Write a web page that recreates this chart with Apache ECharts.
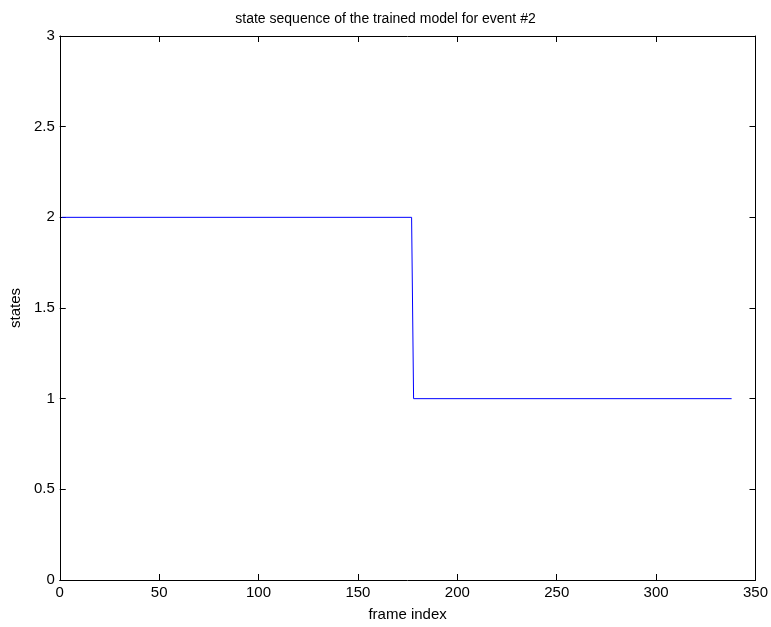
<!DOCTYPE html>
<html>
<head>
<meta charset="utf-8">
<script src="https://cdn.jsdelivr.net/npm/echarts@6/dist/echarts.min.js"></script>
<style>html,body{margin:0;padding:0;background:#fff}#c{width:771px;height:627px}</style>
</head>
<body>
<div id="c"></div>
<script>
const titleText = 'state sequence of the trained model for event #2';
const xLabel = 'frame index';
const yLabel = 'states';
const frameIdx = [1, 177, 178, 338];
const stateVals = [2, 2, 1, 1];
const xTicks = [0, 50, 100, 150, 200, 250, 300, 350];
const yTicks = [0, 0.5, 1, 1.5, 2, 2.5, 3];

const font = 'Liberation Sans, Arial, Helvetica, sans-serif';
const chart = echarts.init(document.getElementById('c'), null, {renderer: 'canvas'});
const axisCommon = {
  axisLine: {show: true, onZero: false, lineStyle: {color: '#000', width: 1}},
  axisTick: {show: true, inside: true, length: 6, lineStyle: {color: '#000', width: 1}},
  splitLine: {show: false}
};
chart.setOption({
  animation: false,
  backgroundColor: '#fff',
  title: {text: titleText, left: 'center', top: 7,
    textStyle: {fontFamily: font, fontSize: 14, fontWeight: 'normal', color: '#000'}},
  grid: {left: 58, right: 14, top: 36, bottom: 43, containLabel: false},
  xAxis: [
    Object.assign({type: 'value', position: 'bottom', min: xTicks[0], max: xTicks[xTicks.length-1], interval: 50,
      name: xLabel, nameLocation: 'middle', nameGap: 27,
      nameTextStyle: {fontFamily: font, fontSize: 15, color: '#000'},
      axisLabel: {show: true, margin: 5, fontFamily: font, fontSize: 15, color: '#000'}}, axisCommon),
    Object.assign({type: 'value', position: 'top', min: xTicks[0], max: xTicks[xTicks.length-1], interval: 50,
      axisLabel: {show: false}}, axisCommon)
  ],
  yAxis: [
    Object.assign({type: 'value', position: 'left', min: yTicks[0], max: yTicks[yTicks.length-1], interval: 0.5,
      name: yLabel, nameLocation: 'middle', nameGap: 30,
      nameTextStyle: {fontFamily: font, fontSize: 15, color: '#000'},
      axisLabel: {show: true, margin: 5, fontFamily: font, fontSize: 15, color: '#000',
        formatter: v => String(v)}}, axisCommon),
    Object.assign({type: 'value', position: 'right', min: yTicks[0], max: yTicks[yTicks.length-1], interval: 0.5,
      axisLabel: {show: false}}, axisCommon)
  ],
  series: [{
    type: 'line', xAxisIndex: 0, yAxisIndex: 0,
    data: frameIdx.map((x, i) => [x, stateVals[i]]),
    showSymbol: false, symbol: 'none',
    lineStyle: {color: '#0000ff', width: 1}
  }]
});
</script>
</body>
</html>
